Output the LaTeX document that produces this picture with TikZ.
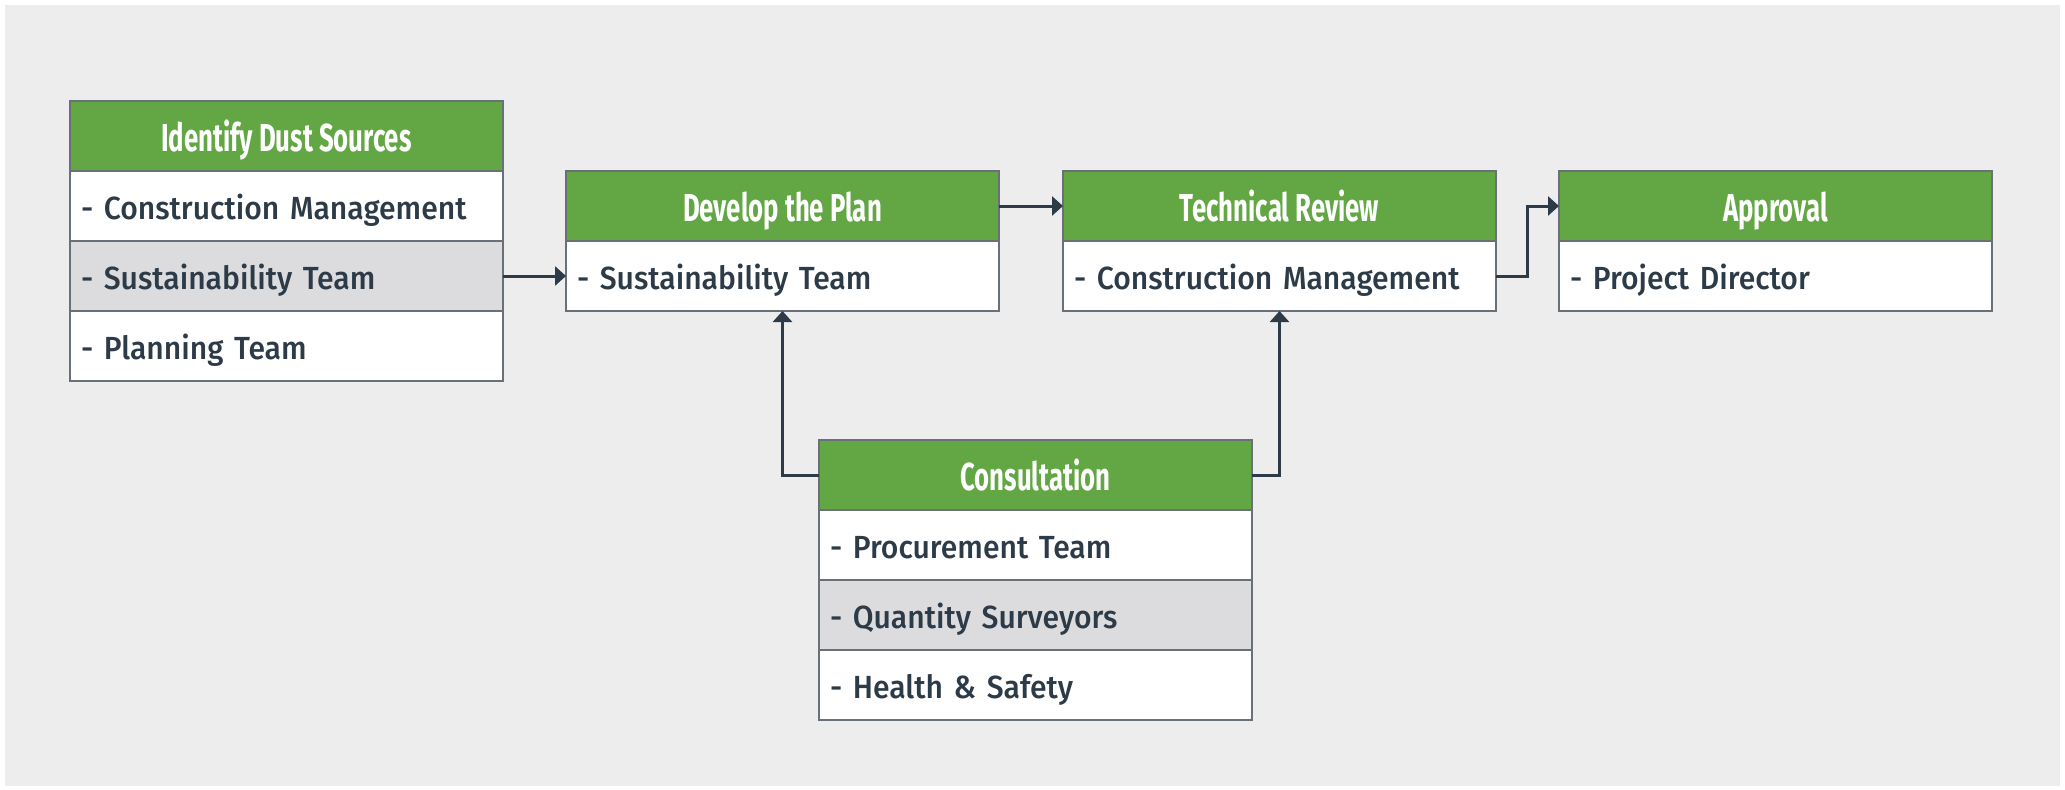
\documentclass[tikz,border=0pt]{standalone}
\usepackage{fontspec}
\setmainfont{Fira Sans}[UprightFont={* Medium}, FakeStretch=0.94]
\newfontfamily\headfont{Fira Sans}[UprightFont={* Bold}, FakeStretch=0.66]
\usetikzlibrary{positioning,arrows.meta}

\definecolor{bggray}{HTML}{EDEDED}
\definecolor{hdgreen}{HTML}{63A744}
\definecolor{rowgray}{HTML}{DCDCDE}
\definecolor{inkdark}{HTML}{2D3A47}
\definecolor{edgegray}{HTML}{6A7078}

\tikzset{
    headbox/.style={draw=edgegray, line width=1.5pt, fill=hdgreen, text=white,
        minimum width=433pt, minimum height=70pt, inner sep=0pt, outer sep=0pt,
        text height=33pt, text depth=2pt, font=\headfont\fontsize{39}{44}\selectfont},
    rowbox/.style={draw=edgegray, line width=1.5pt, fill=white, text=inkdark,
        minimum width=433pt, minimum height=70pt, inner xsep=11pt, inner ysep=0pt,
        outer sep=0pt, text width=411pt, align=left, text height=28pt, text depth=2pt,
        font=\fontsize{32}{38}\selectfont},
    shaded/.style={rowbox, fill=rowgray},
    link/.style={draw=inkdark, line width=3pt, -{Triangle[length=11pt,width=19pt]}}
}

\begin{document}
\begin{tikzpicture}[x=1pt, y=-1pt]
        \useasboundingbox (0, 0) rectangle (2065, 790);
        \fill[white] (0, 0) rectangle (2065, 790);
        \fill[bggray] (5, 5) rectangle (2060, 786);

        \node[headbox, anchor=north west] (ids) at (70, 101) {Identify Dust Sources};
        \node[rowbox, below=0pt of ids] (ids1) {- Construction Management};
        \node[shaded, below=0pt of ids1] (ids2) {- Sustainability Team};
        \node[rowbox, below=0pt of ids2] (ids3) {- Planning Team};

        \node[headbox, anchor=north west] (dev) at (566, 171) {Develop the Plan};
        \node[rowbox, below=0pt of dev] (dev1) {- Sustainability Team};

        \node[headbox, anchor=north west] (rev) at (1063, 171) {Technical Review};
        \node[rowbox, below=0pt of rev] (rev1) {- Construction Management};

        \node[headbox, anchor=north west] (app) at (1559, 171) {Approval};
        \node[rowbox, below=0pt of app] (app1) {- Project Director};

        \node[headbox, anchor=north west] (con) at (819, 440) {Consultation};
        \node[rowbox, below=0pt of con] (con1) {- Procurement Team};
        \node[shaded, below=0pt of con1] (con2) {- Quantity Surveyors};
        \node[rowbox, below=0pt of con2] (con3) {- Health \& Safety};

        \draw[link] (ids2.east) -- (dev1.west);
        \draw[link] (dev.east) -- (rev.west);
        \draw[link] (rev1.east) -- ++(31, 0) |- (app.west);
        \draw[link] (con.west) -| (dev1.south);
        \draw[link] (con.east) -| (rev1.south);
    \end{tikzpicture}
\end{document}
